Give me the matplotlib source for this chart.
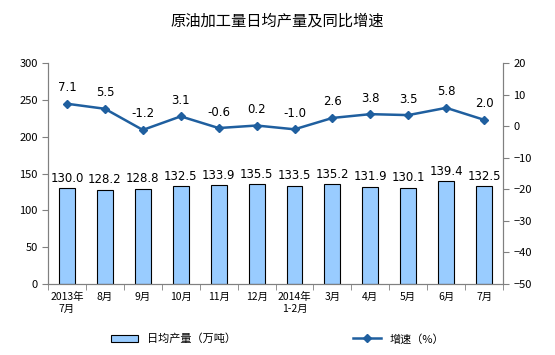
import numpy as np
import matplotlib
matplotlib.use('Agg')
from matplotlib import pyplot as plt

plt.rcParams['font.family'] = ['Noto Sans CJK SC', 'DejaVu Sans']

months = ['2013年\n7月', '8月', '9月', '10月', '11月', '12月', '2014年\n1-2月',
          '3月', '4月', '5月', '6月', '7月']
output = [130.0, 128.2, 128.8, 132.5, 133.9, 135.5, 133.5, 135.2, 131.9, 130.1, 139.4, 132.5]
growth = [7.1, 5.5, -1.2, 3.1, -0.6, 0.2, -1.0, 2.6, 3.8, 3.5, 5.8, 2.0]

x = np.arange(len(months))

fig = plt.figure(figsize=(5.55, 3.55), dpi=100)
ax = fig.add_axes([0.0865, 0.2, 0.82, 0.6225])
ax2 = ax.twinx()

bars = ax.bar(x, output, width=0.42, color='#99CCFF', edgecolor='black', linewidth=0.8)
for xi, v in zip(x, output):
    ax.text(xi, v + 5, '%.1f' % v, ha='center', va='bottom', fontsize=8.5, family='DejaVu Sans')

line, = ax2.plot(x, growth, color='#1F5F9F', marker='D', markersize=4, linewidth=1.8)
for xi, v in zip(x, growth):
    ax2.text(xi, v + 3, '%.1f' % v, ha='center', va='bottom', fontsize=8.5, family='DejaVu Sans')

ax.set_xlim(-0.5, len(months) - 0.5)
ax.set_ylim(0, 300)
ax.set_yticks(range(0, 301, 50))
ax2.set_ylim(-50, 20)
ax2.set_yticks(range(-50, 21, 10))

ax.set_xticks(x)
ax.set_xticklabels(months, fontsize=7.5)
ax.set_xticks(np.arange(-0.5, len(months), 1), minor=True)
ax.tick_params(axis='x', which='major', length=0, pad=6)
ax.tick_params(axis='x', which='minor', length=4, direction='out', color='#808080')
ax.tick_params(axis='y', labelsize=8, length=4, color='#808080')
ax2.tick_params(axis='y', labelsize=8, length=4, color='#808080')

for a in (ax, ax2):
    a.spines['top'].set_visible(False)
    for s in ('left', 'right', 'bottom'):
        a.spines[s].set_color('#808080')

fig.text(0.5, 0.94, '原油加工量日均产量及同比增速', ha='center', va='center', fontsize=11)

fig.legend([bars, line], ['日均产量（万吨）', '增速（%）'], loc='center',
           bbox_to_anchor=(0.5, 0.045), ncol=2, frameon=False, fontsize=8,
           columnspacing=10.5, handlelength=2.5)

fig.savefig('out.png', dpi=100)
